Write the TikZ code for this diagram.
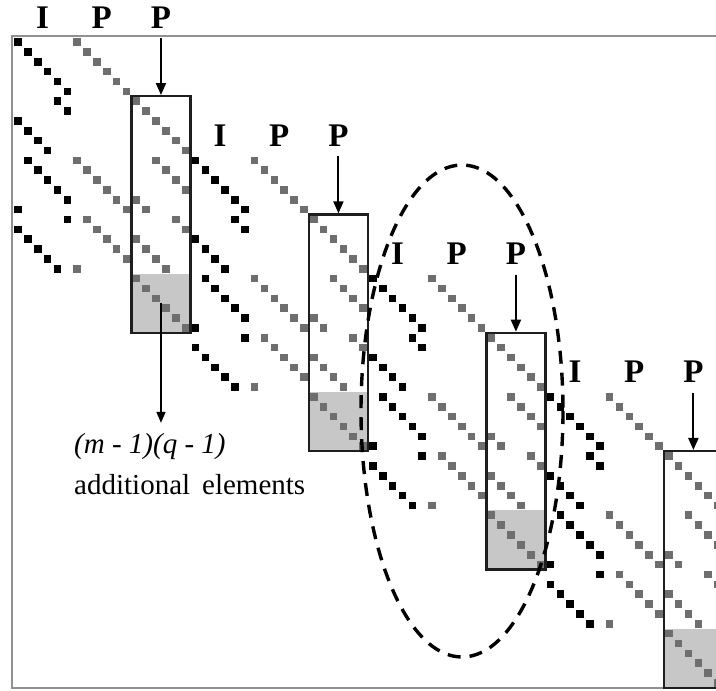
\documentclass[tikz,border=0pt]{standalone}
\usepackage{fontspec}
\setmainfont{Liberation Serif}
\usetikzlibrary{arrows.meta}

\definecolor{dotgray}{RGB}{110,110,110}
\definecolor{shadegray}{RGB}{199,199,199}
\definecolor{framegray}{RGB}{145,145,145}
\definecolor{boxline}{RGB}{30,30,30}

% grid pitch of the sparse pattern (pt)
\def\gridstep{9.86}
% side of one element square (pt)
\def\elside{7.6}

\tikzset{
  blackdot/.style={fill=black},
  graydot/.style={fill=dotgray},
  colhead/.style={font=\fontsize{33}{36}\selectfont\bfseries, anchor=base, inner sep=0pt},
  pbox/.style={draw=boxline, line width=2.4pt, rectangle, inner sep=0pt,
    minimum width=59.16pt, minimum height=236.64pt},
  shadebox/.style={fill=shadegray, draw=none, rectangle, inner sep=0pt,
    minimum width=59.16pt, minimum height=59.16pt},
  downarrow/.style={line width=2pt, -{Triangle[length=12pt,width=10pt]}},
  notearrow/.style={line width=1.4pt, -{Triangle[length=11pt,width=9pt]}},
  notetext/.style={font=\fontsize{29}{34}\selectfont, inner sep=0pt, anchor=base west},
  frameline/.style={draw=framegray, line width=1.6pt},
  region/.style={line width=3.4pt, dash pattern=on 13pt off 9pt}
}

% one square element of the pattern: style, column, row
\newcommand{\dotsquare}[3]{%
  \fill[#1] ({18+(#2)*\gridstep-\elside/2},{42+(#3)*\gridstep-\elside/2})
    rectangle ++(\elside,\elside);}

% one column block: identity part I and two permutation parts P, P
\newcommand{\colblock}[1]{%
  \begin{scope}[shift={({177.48*#1},{118.32*#1})}]
    % extra elements of the last row group
    \node[shadebox] (sh#1) at ({18+14.5*\gridstep},{42+26.5*\gridstep}) {};
    % I part
    \foreach \g/\o in {0/0,1/4,2/1,3/5} {
      \foreach \i in {0,...,5} {
        \pgfmathtruncatemacro\cc{mod(\i+\o,6)}
        \pgfmathtruncatemacro\rr{6*\g+\i}
        \dotsquare{blackdot}{\cc}{\rr}
      }
    }
    % first P part
    \foreach \g/\o in {0/0,2/0,3/1} {
      \foreach \i in {0,...,5} {
        \pgfmathtruncatemacro\cc{6+mod(\i+\o,6)}
        \pgfmathtruncatemacro\rr{6*\g+\i}
        \dotsquare{graydot}{\cc}{\rr}
      }
    }
    % second P part
    \foreach \g/\o in {1/0,2/2,3/4,4/0} {
      \foreach \i in {0,...,5} {
        \pgfmathtruncatemacro\cc{12+mod(\i+\o,6)}
        \pgfmathtruncatemacro\rr{6*\g+\i}
        \dotsquare{graydot}{\cc}{\rr}
      }
    }
    \node[pbox] (bx#1) at ({18+14.5*\gridstep},{42+17.5*\gridstep}) {};
    \node[colhead] (hi#1) at ({18+2.5*\gridstep},28) {I};
    \node[colhead] (hp#1) at ({18+8.5*\gridstep},28) {P};
    \node[colhead] (hq#1) at ({18+14.5*\gridstep},28) {P};
    \draw[downarrow] ([yshift=-10pt]hq#1.base) -- (bx#1.north);
  \end{scope}}

\begin{document}
\begin{tikzpicture}[x=1pt,y=-1pt]
  \useasboundingbox (0,0) rectangle (716,691);
  \clip (0,0) rectangle (716,691);

  \draw[frameline] (740,36) -- (12,36) -- (12,688) -- (740,688);

  \colblock{0}
  \colblock{1}
  \colblock{2}
  \colblock{3}

  % annotation of the extra elements
  \node[notetext, font=\fontsize{29}{34}\selectfont\itshape, outer ysep=10pt]
    (note1) at (74,453) {(m - 1)(q - 1)};
  \node[notetext] (note2) at (74,494) {additional\hspace{12pt}elements};
  \draw[notearrow] (sh0.center) -- (sh0.center |- note1.north);

  % highlighted region
  \draw[region] (462,411) ellipse [x radius=101, y radius=246];
\end{tikzpicture}
\end{document}
